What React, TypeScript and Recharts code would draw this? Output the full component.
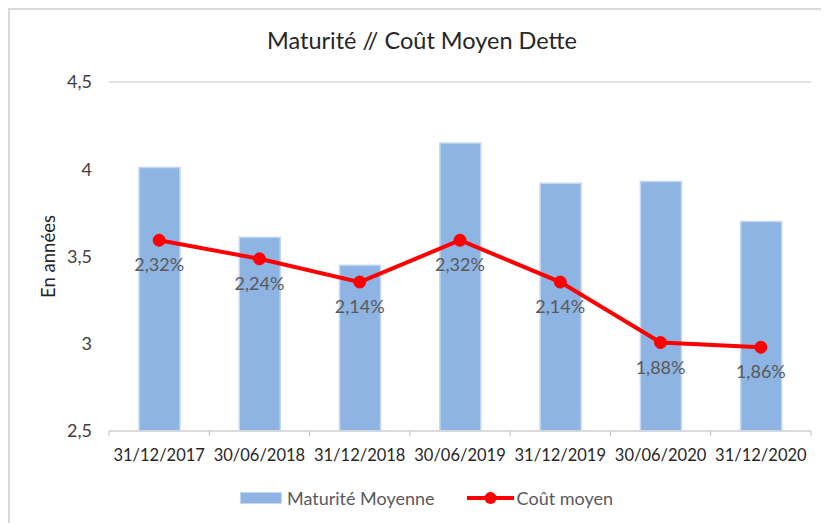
import React from "react";
import {
  ComposedChart,
  Bar,
  Line,
  XAxis,
  YAxis,
  CartesianGrid,
  Legend,
} from "recharts";

const dates = [
  "31/12/2017",
  "30/06/2018",
  "31/12/2018",
  "30/06/2019",
  "31/12/2019",
  "30/06/2020",
  "31/12/2020",
];
const maturite = [4.01, 3.61, 3.45, 4.15, 3.92, 3.93, 3.7];
const cout = [2.32, 2.24, 2.14, 2.32, 2.14, 1.88, 1.86];
const yTicks = [2.5, 3, 3.5, 4, 4.5];

const data = dates.map((d, i) => ({
  date: d,
  maturite: maturite[i],
  cout: cout[i],
}));

const W = 821;
const H = 515;
const margin = { top: 74, right: 18, left: 31, bottom: 13 };
const Y_AXIS_W = 70;
const plotW = W - margin.left - Y_AXIS_W - margin.right;
const band = plotW / dates.length;

const FONT = "Lato, 'Open Sans', sans-serif";
const fmt = (v: number) => v.toString().replace(".", ",");

const XTick = (props: any) => {
  const { x, y, payload, index } = props;
  const isLast = index === dates.length - 1;
  return (
    <g>
      <line x1={x - band / 2} y1={y} x2={x - band / 2} y2={y + 5} stroke="#bfbfbf" />
      {isLast && (
        <line x1={x + band / 2} y1={y} x2={x + band / 2} y2={y + 5} stroke="#bfbfbf" />
      )}
      <text
        x={x}
        y={y + 24}
        textAnchor="middle"
        dominantBaseline="central"
        fill="#262626"
        fontSize={16.5}
        fontFamily={FONT}
      >
        {payload.value}
      </text>
    </g>
  );
};

const CoutLabel = (props: any) => {
  const { x, y, value } = props;
  return (
    <text
      x={x}
      y={y + 24}
      textAnchor="middle"
      dominantBaseline="central"
      fill="#595959"
      fontSize={18}
      fontFamily={FONT}
    >
      {value.toFixed(2).replace(".", ",")}%
    </text>
  );
};

const LegendContent = () => (
  <div
    style={{
      display: "flex",
      justifyContent: "center",
      alignItems: "center",
      height: 24,
      fontFamily: FONT,
      fontSize: 18,
      color: "#595959",
      gap: 32,
      paddingLeft: 16,
    }}
  >
    <div style={{ display: "flex", alignItems: "center" }}>
      <span
        style={{
          display: "inline-block",
          width: 40,
          height: 10,
          background: "#8EB4E3",
          border: "1px solid #c5d7ee",
          marginRight: 5,
        }}
      />
      Maturité Moyenne
    </div>
    <div style={{ display: "flex", alignItems: "center" }}>
      <svg width={47} height={14} style={{ marginRight: 3 }}>
        <line x1={0} y1={7} x2={47} y2={7} stroke="#FF0000" strokeWidth={4} />
        <circle cx={23.5} cy={7} r={6} fill="#FF0000" />
      </svg>
      Coût moyen
    </div>
  </div>
);

export default function App() {
  return (
    <div style={{ position: "relative", width: W, height: H, background: "#fff" }}>
      <div
        style={{
          position: "absolute",
          left: 0,
          top: 0,
          width: W,
          height: H,
          borderLeft: "2px solid #d9d9d9",
          borderTop: "2px solid #d9d9d9",
          boxSizing: "border-box",
          pointerEvents: "none",
        }}
      />
      <div
        style={{
          position: "absolute",
          left: 0,
          top: 17,
          width: 828,
          textAlign: "center",
          fontFamily: FONT,
          fontSize: 23.5,
          color: "#262626",
          lineHeight: "30px",
        }}
      >
        Maturité // Coût Moyen Dette
      </div>
      <ComposedChart width={W} height={H} data={data} margin={margin}>
        <CartesianGrid vertical={false} stroke="#d9d9d9" strokeWidth={1.5} />
        <XAxis
          dataKey="date"
          height={55}
          tickSize={0}
          tickMargin={0}
          tickLine={false}
          axisLine={{ stroke: "#d9d9d9", strokeWidth: 1.5 }}
          tick={<XTick />}
          interval={0}
        />
        <YAxis
          yAxisId="left"
          width={Y_AXIS_W}
          domain={[2.5, 4.5]}
          ticks={yTicks}
          tickFormatter={fmt}
          axisLine={false}
          tickLine={false}
          tickSize={0}
          tickMargin={17}
          tick={{ fill: "#404040", fontSize: 18, fontFamily: FONT }}
          label={{
            value: "En années",
            angle: -90,
            position: "insideLeft",
            offset: 9,
            style: {
              textAnchor: "middle",
              fill: "#262626",
              fontSize: 18.5,
              fontFamily: FONT,
            },
          }}
        />
        <YAxis yAxisId="right" orientation="right" hide domain={[1.5, 3]} />
        <Legend
          verticalAlign="bottom"
          content={<LegendContent />}
          wrapperStyle={{ left: 0, width: W }}
        />
        <Bar
          yAxisId="left"
          dataKey="maturite"
          name="Maturité Moyenne"
          barSize={41}
          fill="#8EB4E3"
          stroke="#c5d7ee"
          strokeWidth={1.5}
          isAnimationActive={false}
        />
        <Line
          yAxisId="right"
          dataKey="cout"
          name="Coût moyen"
          stroke="#FF0000"
          strokeWidth={4}
          dot={{ r: 6, fill: "#FF0000", stroke: "#FF0000", strokeWidth: 1 }}
          activeDot={false}
          label={<CoutLabel />}
          isAnimationActive={false}
        />
      </ComposedChart>
    </div>
  );
}
